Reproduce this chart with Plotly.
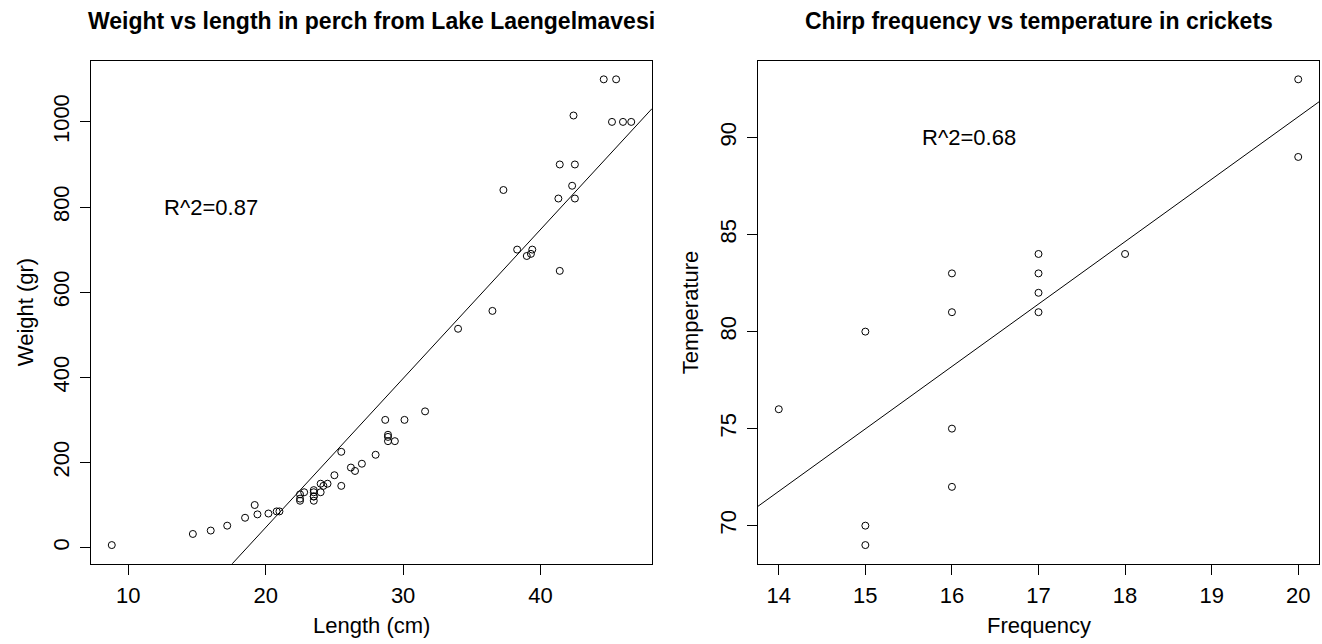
import numpy as np
import plotly.graph_objects as go

# ---- Data: perch from Lake Laengelmavesi ----
perch_length = [8.8, 14.7, 16.0, 17.2, 18.5, 19.2, 19.4, 20.2, 20.8, 21.0,
                22.5, 22.5, 22.5, 22.8, 23.5, 23.5, 23.5, 23.5, 23.5, 24.0,
                24.0, 24.2, 24.5, 25.0, 25.5, 25.5, 26.2, 26.5, 27.0, 28.0,
                28.7, 28.9, 28.9, 28.9, 29.4, 30.1, 31.6, 34.0, 36.5, 37.3,
                39.0, 38.3, 39.4, 39.3, 41.4, 41.4, 41.3, 42.3, 42.5, 42.4,
                42.5, 44.6, 45.2, 45.5, 46.0, 46.6]
perch_weight = [5.9, 32, 40, 51.5, 70, 100, 78, 80, 85, 85,
                110, 115, 125, 130, 120, 120, 130, 135, 110, 130,
                150, 145, 150, 170, 225, 145, 188, 180, 197, 218,
                300, 260, 265, 250, 250, 300, 320, 514, 556, 840,
                685, 700, 700, 690, 900, 650, 820, 850, 900, 1015,
                820, 1100, 1000, 1100, 1000, 1000]

# ---- Data: crickets ----
cricket_freq = [20, 16, 20, 18, 17, 16, 15, 17, 15, 16, 15, 17, 16, 17, 14]
cricket_temp = [89, 72, 93, 84, 81, 75, 70, 82, 69, 83, 80, 83, 81, 84, 76]

left_xticks = [10, 20, 30, 40]
left_yticks = [0, 200, 400, 600, 800, 1000]
right_xticks = [14, 15, 16, 17, 18, 19, 20]
right_yticks = [70, 75, 80, 85, 90]

left_title = "Weight vs length in perch from Lake Laengelmavesi"
right_title = "Chirp frequency vs temperature in crickets"
left_label = "R^2=0.87"
right_label = "R^2=0.68"
left_label_pos = (16, 800)
right_label_pos = (16.2, 90)

FONT = "Liberation Sans, Arial, Helvetica, sans-serif"
BASE = 22
TITLE = 23


def r_range(v):
    lo, hi = min(v), max(v)
    d = (hi - lo) * 0.04
    return [lo - d, hi + d]


def fit(x, y):
    b, a = np.polyfit(np.asarray(x, float), np.asarray(y, float), 1)
    return a, b


lx_rng = r_range(perch_length)
ly_rng = r_range(perch_weight)
rx_rng = r_range(cricket_freq)
ry_rng = r_range(cricket_temp)

la, lb = fit(perch_length, perch_weight)
ra, rb = fit(cricket_freq, cricket_temp)

fig = go.Figure()

marker = dict(symbol="circle-open", size=7, color="black", line=dict(width=1, color="black"))

fig.add_trace(go.Scatter(x=perch_length, y=perch_weight, mode="markers",
                         marker=marker, xaxis="x", yaxis="y", showlegend=False))
lxs = np.array(lx_rng)
fig.add_trace(go.Scatter(x=lxs, y=la + lb * lxs, mode="lines",
                         line=dict(color="black", width=1), xaxis="x", yaxis="y",
                         showlegend=False))

fig.add_trace(go.Scatter(x=cricket_freq, y=cricket_temp, mode="markers",
                         marker=marker, xaxis="x2", yaxis="y2", showlegend=False))
rxs = np.array(rx_rng)
fig.add_trace(go.Scatter(x=rxs, y=ra + rb * rxs, mode="lines",
                         line=dict(color="black", width=1), xaxis="x2", yaxis="y2",
                         showlegend=False))

W, H = 1322, 644
L_BOX = (91, 652)
R_BOX = (758, 1319)
TOP, BOT = 60.7, 563.7

ydom = [(H - BOT) / H, (H - TOP) / H]

axis_common = dict(showline=True, mirror=True, linecolor="black", linewidth=1,
                   ticks="outside", ticklen=10, tickwidth=1, tickcolor="black",
                   showgrid=False, zeroline=False, ticklabelstandoff=2,
                   tickfont=dict(family=FONT, size=BASE, color="black"))

fig.update_layout(
    width=W, height=H,
    margin=dict(l=0, r=0, t=0, b=0),
    paper_bgcolor="white", plot_bgcolor="white",
    xaxis=dict(domain=[L_BOX[0] / W, L_BOX[1] / W], range=lx_rng,
               tickvals=left_xticks, anchor="y", **axis_common),
    yaxis=dict(domain=ydom, range=ly_rng, tickvals=left_yticks, anchor="x",
               tickangle=-90, **axis_common),
    xaxis2=dict(domain=[R_BOX[0] / W, R_BOX[1] / W], range=rx_rng,
                tickvals=right_xticks, anchor="y2", **axis_common),
    yaxis2=dict(domain=ydom, range=ry_rng, tickvals=right_yticks, anchor="x2",
                tickangle=-90, **axis_common),
)

lcx = (L_BOX[0] + L_BOX[1]) / 2 / W
rcx = (R_BOX[0] + R_BOX[1]) / 2 / W
midy = 1 - (TOP + BOT) / 2 / H

ann = [
    dict(text="<b>%s</b>" % left_title, x=lcx, y=1 - 21 / H, font=dict(size=TITLE)),
    dict(text="<b>%s</b>" % right_title, x=rcx, y=1 - 21 / H, font=dict(size=TITLE)),
    dict(text="Length (cm)", x=lcx, y=1 - 625 / H, font=dict(size=BASE)),
    dict(text="Frequency", x=rcx, y=1 - 625 / H, font=dict(size=BASE)),
    dict(text="Weight (gr)", x=25 / W, y=midy, textangle=-90, font=dict(size=BASE)),
    dict(text="Temperature", x=690 / W, y=midy, textangle=-90, font=dict(size=BASE)),
]
for a in ann:
    a.update(xref="paper", yref="paper", showarrow=False, xanchor="center", yanchor="middle")
    a["font"].update(family=FONT, color="black")
    fig.add_annotation(**a)

fig.add_annotation(text=left_label, x=left_label_pos[0], y=left_label_pos[1],
                   xref="x", yref="y", showarrow=False,
                   font=dict(family=FONT, size=BASE, color="black"))
fig.add_annotation(text=right_label, x=right_label_pos[0], y=right_label_pos[1],
                   xref="x2", yref="y2", showarrow=False,
                   font=dict(family=FONT, size=BASE, color="black"))

fig.write_html("out.html",
               config={"displayModeBar": False},
               post_script="document.body.style.margin='0';document.body.style.overflow='hidden';")
